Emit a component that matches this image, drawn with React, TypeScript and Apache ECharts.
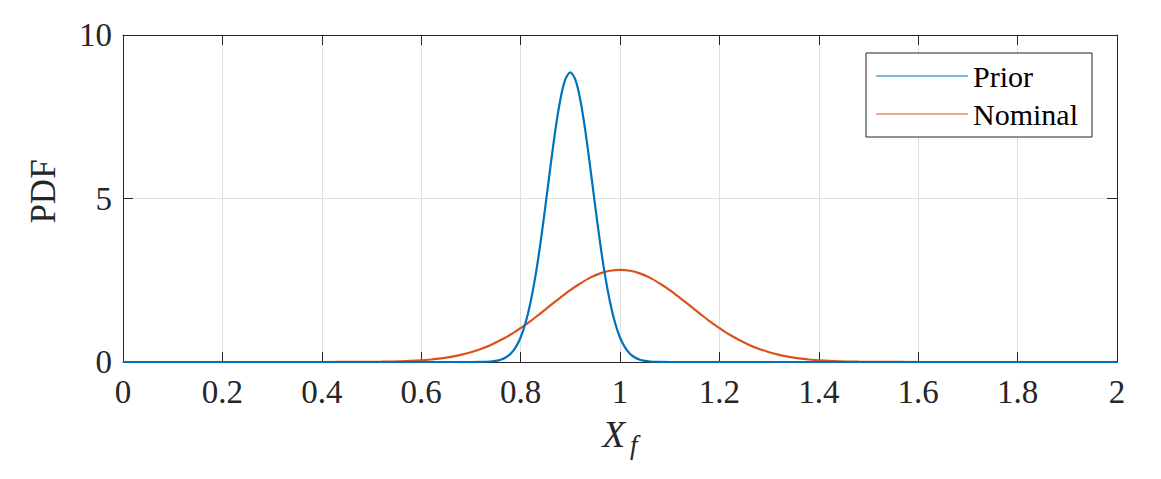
import React, { useEffect, useRef } from "react";
import * as echarts from "echarts";

// Prior PDF samples
const priorX = [0, 0.6, 0.7, 0.72, 0.74, 0.75, 0.76, 0.77, 0.78, 0.79, 0.8, 0.81, 0.82, 0.83, 0.84, 0.85, 0.86, 0.87, 0.88, 0.89, 0.9, 0.91, 0.92, 0.93, 0.94, 0.95, 0.96, 0.97, 0.98, 0.99, 1.0, 1.01, 1.02, 1.03, 1.04, 1.05, 1.06, 1.08, 1.1, 1.2, 2];
const priorY = [0, 0, 0.0004, 0.003, 0.016, 0.034, 0.07, 0.137, 0.253, 0.447, 0.75, 1.2, 1.83, 2.64, 3.64, 4.78, 5.97, 7.1, 8.03, 8.64, 8.86, 8.64, 8.03, 7.1, 5.97, 4.78, 3.64, 2.64, 1.83, 1.2, 0.75, 0.447, 0.253, 0.137, 0.07, 0.034, 0.016, 0.003, 0.0004, 0, 0];

// Nominal PDF samples
const nominalX = [0, 0.3, 0.4, 0.48, 0.52, 0.56, 0.6, 0.62, 0.64, 0.66, 0.68, 0.7, 0.72, 0.74, 0.76, 0.78, 0.8, 0.82, 0.84, 0.86, 0.88, 0.9, 0.92, 0.94, 0.96, 0.98, 1.0, 1.02, 1.04, 1.06, 1.08, 1.1, 1.12, 1.14, 1.16, 1.18, 1.2, 1.22, 1.24, 1.26, 1.28, 1.3, 1.32, 1.34, 1.36, 1.38, 1.4, 1.44, 1.48, 1.52, 1.6, 1.7, 2];
const nominalY = [0, 0, 0.0003, 0.003, 0.009, 0.022, 0.052, 0.076, 0.11, 0.157, 0.22, 0.3, 0.4, 0.52, 0.67, 0.84, 1.04, 1.25, 1.49, 1.73, 1.97, 2.2, 2.4, 2.58, 2.71, 2.79, 2.82, 2.79, 2.71, 2.58, 2.4, 2.2, 1.97, 1.73, 1.49, 1.25, 1.04, 0.84, 0.67, 0.52, 0.4, 0.3, 0.22, 0.157, 0.11, 0.076, 0.052, 0.022, 0.009, 0.003, 0.0003, 0, 0];

const xTicks = ["0", "0.2", "0.4", "0.6", "0.8", "1", "1.2", "1.4", "1.6", "1.8", "2"];
const yTicks = ["0", "5", "10"];
const seriesNames = ["Prior", "Nominal"];
const colors = ["#0072BD", "#D95319"];

const FONT = "Liberation Serif";

export default function App() {
  const ref = useRef<HTMLDivElement>(null);
  useEffect(() => {
    if (!ref.current) return;
    const chart = echarts.init(ref.current, undefined, { renderer: "svg" });
    const pairs = (xs: number[], ys: number[]) => xs.map((x, i) => [x, ys[i]]);
    const tickStyle = { show: true, inside: true, length: 10, lineStyle: { color: "#262626", width: 1 } };
    const lineStyleAxis = { show: true, onZero: false, lineStyle: { color: "#262626", width: 1 } };
    chart.setOption({
      animation: false,
      backgroundColor: "#ffffff",
      textStyle: { fontFamily: FONT },
      grid: { left: 123, right: 44, top: 35, bottom: 117, containLabel: false },
      legend: {
        orient: "vertical",
        right: 69,
        top: 53,
        data: seriesNames,
        icon: "path://M0,0L100,0L100,1L0,1Z",
        itemWidth: 92,
        itemHeight: 2,
        itemGap: 8,
        padding: [8, 14, 8, 10],
        borderColor: "#262626",
        borderWidth: 1,
        backgroundColor: "#ffffff",
        textStyle: { fontFamily: FONT, fontSize: 30, color: "#000000" },
      },
      xAxis: [
        {
          type: "value",
          min: 0,
          max: 2,
          interval: 0.2,
          position: "bottom",
          axisLine: lineStyleAxis,
          axisTick: tickStyle,
          splitLine: { show: true, lineStyle: { color: "#dfdfdf", width: 1 } },
          axisLabel: {
            fontFamily: FONT,
            fontSize: 33,
            color: "#262626",
            margin: 13,
            formatter: (v: number) => xTicks[Math.round(v / 0.2)] ?? "",
          },
          name: "{x|X}{f|f}",
          nameLocation: "middle",
          nameGap: 49,
          nameTextStyle: {
            rich: {
              x: { fontFamily: FONT, fontSize: 37, fontStyle: "italic", color: "#262626" },
              f: { fontFamily: FONT, fontSize: 27, fontStyle: "italic", color: "#262626", padding: [20, 0, 0, 5] },
            },
          },
        },
        {
          type: "value",
          min: 0,
          max: 2,
          interval: 0.2,
          position: "top",
          axisLine: lineStyleAxis,
          axisTick: tickStyle,
          splitLine: { show: false },
          axisLabel: { show: false },
        },
      ],
      yAxis: [
        {
          type: "value",
          min: 0,
          max: 10,
          interval: 5,
          position: "left",
          axisLine: lineStyleAxis,
          axisTick: tickStyle,
          splitLine: { show: true, lineStyle: { color: "#dfdfdf", width: 1 } },
          axisLabel: {
            fontFamily: FONT,
            fontSize: 33,
            color: "#262626",
            margin: 11,
            formatter: (v: number) => yTicks[Math.round(v / 5)] ?? "",
          },
          name: "PDF",
          nameLocation: "middle",
          nameGap: 62,
          nameTextStyle: { fontFamily: FONT, fontSize: 35, color: "#262626", padding: [0, 0, 0, 14] },
        },
        {
          type: "value",
          min: 0,
          max: 10,
          interval: 5,
          position: "right",
          axisLine: lineStyleAxis,
          axisTick: tickStyle,
          splitLine: { show: false },
          axisLabel: { show: false },
        },
      ],
      series: [
        {
          name: seriesNames[0],
          type: "line",
          data: pairs(priorX, priorY),
          smooth: 0.3,
          symbol: "none",
          color: colors[0],
          lineStyle: { color: colors[0], width: 2.2 },
          z: 3,
        },
        {
          name: seriesNames[1],
          type: "line",
          data: pairs(nominalX, nominalY),
          smooth: 0.3,
          symbol: "none",
          color: colors[1],
          lineStyle: { color: colors[1], width: 2.2 },
          z: 2,
        },
      ],
    });
    return () => chart.dispose();
  }, []);
  return <div ref={ref} style={{ width: 1161, height: 479, position: "absolute", left: 0, top: 0 }} />;
}
